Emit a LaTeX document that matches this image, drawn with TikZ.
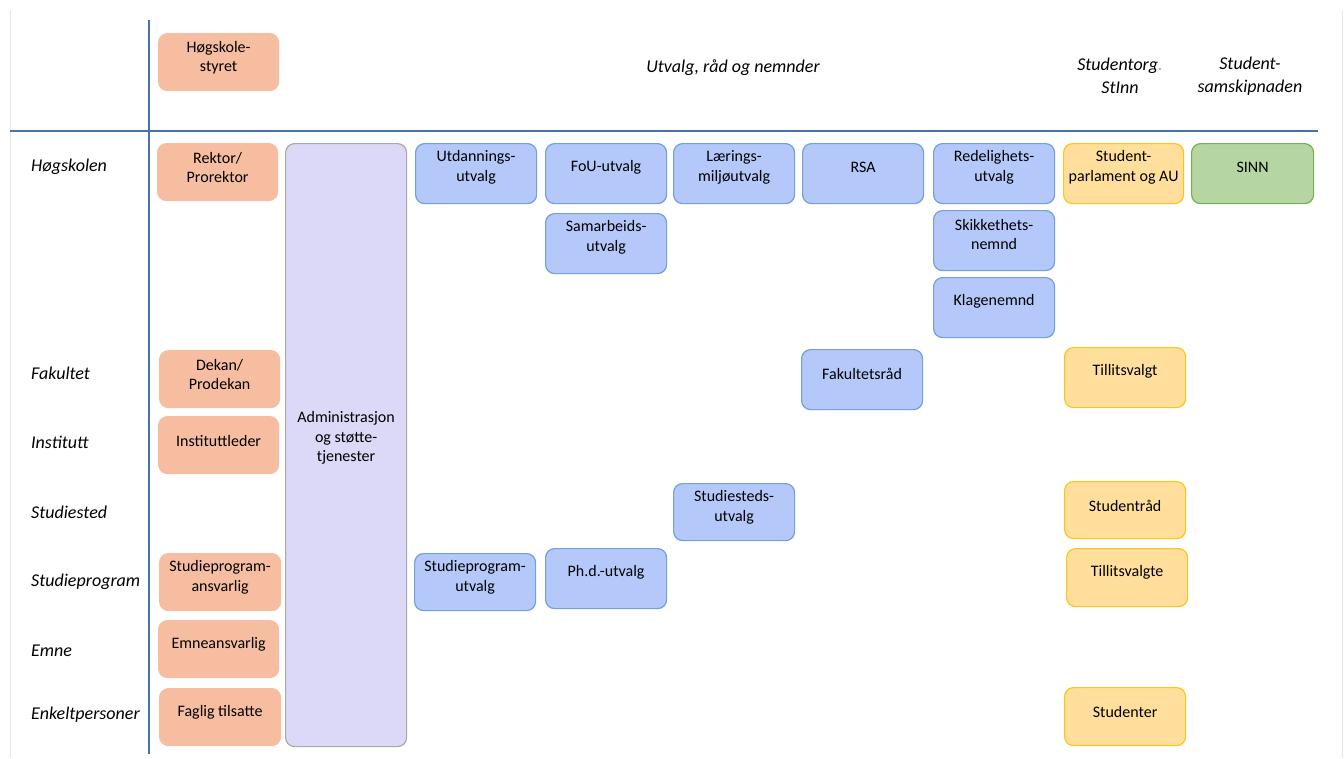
\documentclass[tikz,border=0pt]{standalone}
\usepackage{fontspec}
\setmainfont{Carlito}
\definecolor{laks}{HTML}{F7BDA1}
\definecolor{blaa}{HTML}{B4C8FA}
\definecolor{blaakant}{HTML}{71A0DA}
\definecolor{lilla}{HTML}{DBD9F7}
\definecolor{lillakant}{HTML}{A9A9A9}
\definecolor{gul}{HTML}{FFDF9B}
\definecolor{gulkant}{HTML}{FFC41A}
\definecolor{gronn}{HTML}{B5D6A3}
\definecolor{gronnkant}{HTML}{77AE50}
\definecolor{linjeblaa}{HTML}{4672A8}
\begin{document}
\begin{tikzpicture}[x=1pt,y=-1pt,
  every node/.style={inner sep=0pt},
  boks/.style={rounded corners=9pt, line width=1.2pt, anchor=north west,
    minimum width=121pt, minimum height=60pt},
  leder/.style={boks, fill=laks, draw=laks, minimum width=120pt, minimum height=57pt},
  utvalg/.style={boks, fill=blaa, draw=blaakant},
  stud/.style={boks, fill=gul, draw=gulkant},
  samsk/.style={boks, fill=gronn, draw=gronnkant},
  adm/.style={boks, fill=lilla, draw=lillakant},
  tekst/.style={font=\fontsize{16}{19.5}\selectfont, align=center, anchor=center},
  topp/.style={tekst, yshift=-24.5pt},
  niva/.style={font=\fontsize{18}{23}\selectfont\itshape, anchor=base west},
  hode/.style={font=\fontsize{18}{23.5}\selectfont\itshape, align=center},
  linje/.style={linjeblaa, line width=1.3pt}]
\useasboundingbox (0,0) rectangle (1344,758);
\draw [black!10] (10,10) -- (10,758);
\draw [black!10] (1342,10) -- (1342,758);
\draw [linje] (10,131) -- (1318,131);
\draw [linje] (149,20) -- (149,754);
\node [hode] (utvalghode) at (733,68) {Utvalg, råd og nemnder};
\node [hode] (studorghode) at (1120,76) {Studentorg{\color{black!35}.}\\StInn};
\node [hode] (samskhode) at (1250,76) {Student-\\samskipnaden};
\node [niva] (hogskolen) at (31,171) {Høgskolen};
\node [niva] (fakultet) at (31,379) {Fakultet};
\node [niva] (institutt) at (31,448) {Institutt};
\node [niva] (studiested) at (31,518) {Studiested};
\node [niva] (studieprogram) at (31,586) {Studieprogram};
\node [niva] (emne) at (31,656) {Emne};
\node [niva] (enkelt) at (31,719) {Enkeltpersoner};
\node [leder, label={[topp]north:Høgskole-\\styret}] (styret) at (158,33) {};
\node [leder, label={[topp]north:Rektor/\\Prorektor}] (rektor) at (157,143) {};
\node [leder, label={[topp]north:Dekan/\\Prodekan}] (dekan) at (159,350) {};
\node [leder, label={[topp]north:Instituttleder}] (instleder) at (158,416) {};
\node [leder, minimum width=121pt, label={[topp]north:Studieprogram-\\ansvarlig}] (spansvarlig) at (159,553) {};
\node [leder, label={[topp]north:Emneansvarlig}] (emneansv) at (158,620) {};
\node [leder, minimum width=121pt, label={[topp]north:Faglig tilsatte}] (faglig) at (159,688) {};
\node [adm, minimum height=603pt, label={[tekst, yshift=-295pt]north:Administrasjon\\og støtte-\\tjenester}] (admin) at (285,143) {};
\node [utvalg, label={[topp]north:Utdannings-\\utvalg}] (utd) at (415,143) {};
\node [utvalg, label={[topp]north:FoU-utvalg}] (fou) at (545,143) {};
\node [utvalg, label={[topp]north:Lærings-\\miljøutvalg}] (laering) at (673,143) {};
\node [utvalg, label={[topp]north:RSA}] (rsa) at (802,143) {};
\node [utvalg, label={[topp]north:Redelighets-\\utvalg}] (redelig) at (933,143) {};
\node [utvalg, label={[topp]north:Samarbeids-\\utvalg}] (samarb) at (545,213) {};
\node [utvalg, label={[topp]north:Skikkethets-\\nemnd}] (skikk) at (933,210) {};
\node [utvalg, label={[topp]north:Klagenemnd}] (klage) at (933,277) {};
\node [utvalg, label={[topp]north:Fakultetsråd}] (fakrad) at (801,349) {};
\node [utvalg, minimum height=57pt, label={[topp]north:Studiesteds-\\utvalg}] (stedutv) at (673,483) {};
\node [utvalg, minimum height=57pt, label={[topp]north:Studieprogram-\\utvalg}] (spu) at (414,553) {};
\node [utvalg, label={[topp]north:Ph.d.-utvalg}] (phd) at (545,548) {};
\node [stud, minimum width=120pt, label={[topp]north:Student-\\parlament og AU}] (parlament) at (1063,143) {};
\node [samsk, minimum width=122pt, label={[topp]north:SINN}] (sinn) at (1191,143) {};
\node [stud, label={[topp]north:Tillitsvalgt}] (tillit) at (1064,347) {};
\node [stud, minimum height=57pt, label={[topp]north:Studentråd}] (studrad) at (1064,481) {};
\node [stud, minimum height=58pt, label={[topp]north:Tillitsvalgte}] (tillitte) at (1066,548) {};
\node [stud, minimum height=58pt, label={[topp]north:Studenter}] (studenter) at (1064,687) {};
\end{tikzpicture}
\end{document}
